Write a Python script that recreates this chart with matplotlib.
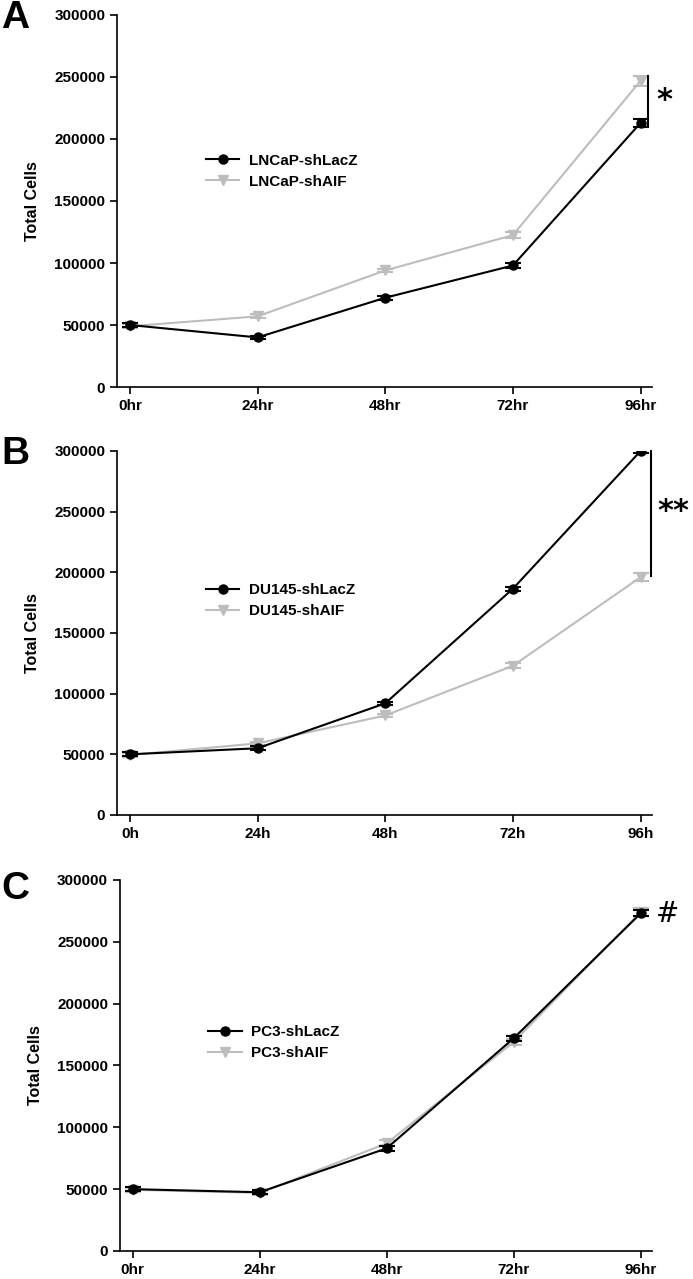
import matplotlib.pyplot as plt
import matplotlib.font_manager as fm
from matplotlib.lines import Line2D

# Time points (per panel labels differ slightly)
time_idx = [0, 1, 2, 3, 4]
labels_a = ['0hr', '24hr', '48hr', '72hr', '96hr']
labels_b = ['0h', '24h', '48h', '72h', '96h']
labels_c = ['0hr', '24hr', '48hr', '72hr', '96hr']

# Panel A: LNCaP
lncap_lacz = [50000, 40000, 72000, 98000, 213000]
lncap_lacz_err = [1500, 1500, 1500, 2000, 3500]
lncap_aif = [49000, 57000, 94000, 122500, 247000]
lncap_aif_err = [1500, 1500, 1500, 2500, 4000]

# Panel B: DU145
du145_lacz = [50000, 55000, 92000, 186500, 300000]
du145_lacz_err = [1500, 1500, 1500, 1500, 1500]
du145_aif = [49500, 59000, 82000, 123000, 196000]
du145_aif_err = [1500, 1500, 1500, 2000, 3500]

# Panel C: PC3
pc3_lacz = [50000, 47500, 83000, 172000, 273000]
pc3_lacz_err = [1500, 1500, 2000, 2000, 2500]
pc3_aif = [49500, 47000, 87000, 169000, 274000]
pc3_aif_err = [1500, 1500, 2500, 2500, 3000]

avail = {f.name for f in fm.fontManager.ttflist}
tick_font = 'Liberation Sans Narrow' if 'Liberation Sans Narrow' in avail else 'Liberation Sans'
plt.rcParams['font.family'] = [tick_font, 'DejaVu Sans']

BLACK = '#000000'
GREY = '#bdbdbd'

fig = plt.figure(figsize=(6.93, 12.79), dpi=100)

panels = [
    ('A', [0.169, 0.6974, 0.772, 0.2909], labels_a, lncap_lacz, lncap_lacz_err, lncap_aif, lncap_aif_err,
     ['LNCaP-shLacZ', 'LNCaP-shAIF'], 0.664, 0.986),
    ('B', [0.169, 0.3628, 0.772, 0.2846], labels_b, du145_lacz, du145_lacz_err, du145_aif, du145_aif_err,
     ['DU145-shLacZ', 'DU145-shAIF'], 0.675, 0.645),
    ('C', [0.173, 0.0219, 0.768, 0.2901], labels_c, pc3_lacz, pc3_lacz_err, pc3_aif, pc3_aif_err,
     ['PC3-shLacZ', 'PC3-shAIF'], 0.645, 0.305),
]

axes = []
for letter, rect, xl, y1, e1, y2, e2, leg, legy, lety in panels:
    ax = fig.add_axes(rect)
    ax.errorbar(time_idx, y1, yerr=e1, color=BLACK, marker='o', markersize=6.5,
                lw=1.5, capsize=6, capthick=1.5, elinewidth=1.5, zorder=3)
    ax.errorbar(time_idx, y2, yerr=e2, color=GREY, marker='v', markersize=7,
                lw=1.5, capsize=6, capthick=1.5, elinewidth=1.5, zorder=2)
    ax.set_xlim(-0.1, 4.09)
    ax.set_ylim(0, 300000)
    ax.set_yticks(range(0, 300001, 50000))
    ax.set_xticks(time_idx)
    ax.set_xticklabels(xl)
    for s in ['top', 'right']:
        ax.spines[s].set_visible(False)
    for s in ['left', 'bottom']:
        ax.spines[s].set_linewidth(1.2)
    ax.tick_params(direction='out', length=5, width=1.2, labelsize=11)
    for t in ax.get_xticklabels() + ax.get_yticklabels():
        t.set_fontweight('bold')
    ax.set_ylabel('Total Cells', family=['Liberation Sans', 'DejaVu Sans'],
                  fontsize=11.5, fontweight='bold', labelpad=10)
    handles = [Line2D([], [], color=BLACK, marker='o', markersize=6.5, lw=1.5),
               Line2D([], [], color=GREY, marker='v', markersize=7, lw=1.5)]
    ax.legend(handles, leg, loc='upper left', bbox_to_anchor=(0.14, legy), frameon=False,
              handlelength=2.2, handletextpad=0.6, labelspacing=0.45,
              prop={'weight': 'bold', 'size': 11, 'family': tick_font})
    fig.text(0.002, lety, letter, fontsize=28, fontweight='bold',
             family=['Liberation Sans', 'DejaVu Sans'], va='center', ha='left')
    axes.append(ax)

# significance marks
axA, axB, axC = axes
axA.plot([4.06, 4.06], [211000, 251000], color=BLACK, lw=1.5, clip_on=False)
axA.text(4.12, 231000, '*', fontsize=22, fontweight='bold', va='center', ha='left',
         family=['DejaVu Sans'])
axB.plot([4.08, 4.08], [197000, 300000], color=BLACK, lw=1.5, clip_on=False)
axB.text(4.13, 250000, '**', fontsize=22, fontweight='bold', va='center', ha='left',
         family=['DejaVu Sans'])
axC.text(4.12, 272000, '#', fontsize=20, va='center', ha='left', family=['DejaVu Serif'])

fig.savefig('out.png', dpi=100)
